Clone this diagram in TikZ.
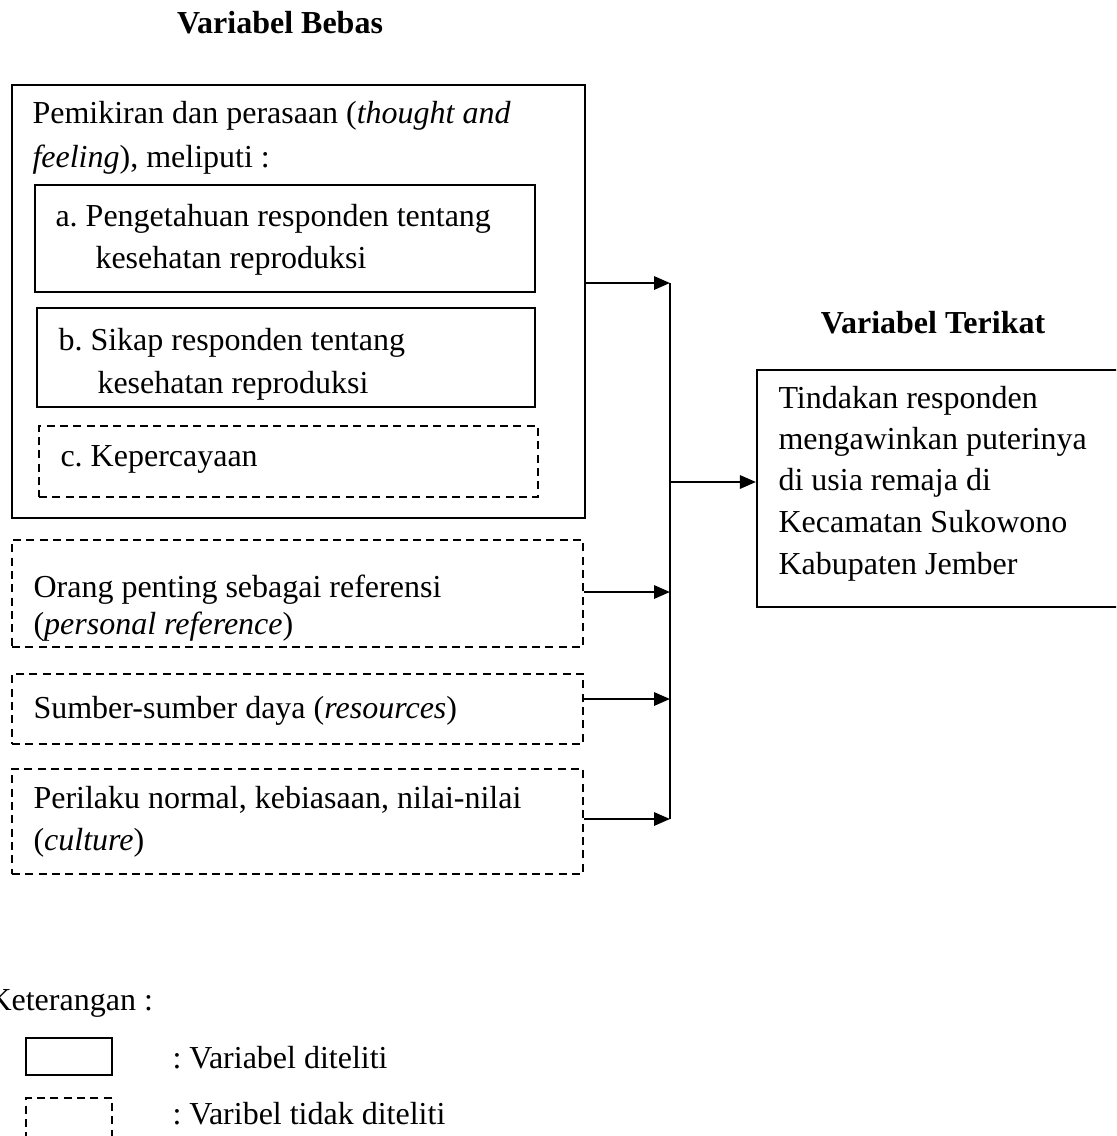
\documentclass[tikz,border=0pt]{standalone}
\usepackage{fontspec}
\setmainfont{Liberation Serif}
\usetikzlibrary{arrows.meta,fit}
\begin{document}
\frenchspacing
\begin{tikzpicture}[x=0.375pt,y=-0.375pt,font=\fontsize{12}{14}\selectfont,
	>={Triangle[length=6pt,width=5pt]},
	box/.style={draw,line width=0.8pt,inner sep=0pt},
	dbox/.style={box,dash pattern=on 3pt off 2pt},
	txt/.style={anchor=base west,inner sep=0pt},
	judul/.style={anchor=base,inner sep=0pt,font=\fontsize{12}{14}\selectfont\bfseries},
	link/.style={->,line width=0.8pt}]
	\useasboundingbox (0,0) rectangle (1116,1136);
	\clip (0,0) rectangle (1116,1136);
	% judul
	\node[judul] (bebas) at (280,33) {Variabel Bebas};
	\node[judul] (terikat) at (933,333) {Variabel Terikat};
	% kotak variabel
	\node[box,fit={(12,85) (585,518)}] (pikir) {};
	\node[box,fit={(35,185) (535,292)}] (tahu) {};
	\node[box,fit={(37,308) (535,407)}] (sikap) {};
	\node[dbox,fit={(39,426) (538,497)}] (percaya) {};
	\node[dbox,fit={(12,540) (583,647)}] (referensi) {};
	\node[dbox,fit={(12,674) (583,744)}] (sumber) {};
	\node[dbox,fit={(12,769) (583,874)}] (kultur) {};
	\node[box,fit={(757,370) (1130,607)}] (tindakan) {};
	% isi teks
	\foreach \x/\y/\t in {32/123/{Pemikiran dan perasaan (\textit{thought and}},32/167/{\textit{feeling}), meliputi :},
		55/226/{a. Pengetahuan responden tentang},95/268/{kesehatan reproduksi},
		58/350/{b. Sikap responden tentang},97/393/{kesehatan reproduksi},
		60/466/{c. Kepercayaan},
		33/597/{Orang penting sebagai referensi},33/634/{(\textit{personal reference})},
		33/718/{Sumber-sumber daya (\textit{resources})},
		33/808/{Perilaku normal, kebiasaan, nilai-nilai},33/850/{(\textit{culture})},
		778/408/{Tindakan responden},778/449/{mengawinkan puterinya},778/490/{di usia remaja di},
		778/532/{Kecamatan Sukowono},778/574/{Kabupaten Jember}}
	\node[txt] (t\y) at (\x,\y) {\t};
	% panah
	\coordinate (bus1) at (670,283);
	\coordinate (bus2) at (670,592);
	\coordinate (bus3) at (670,699);
	\coordinate (bus4) at (670,819);
	\coordinate (bus0) at (670,482);
	\draw[line width=0.8pt] (bus1) -- (bus4);
	\draw[link] (pikir.east |- bus1) -- (bus1);
	\draw[link] (referensi.east |- bus2) -- (bus2);
	\draw[link] (sumber.east |- bus3) -- (bus3);
	\draw[link] (kultur.east |- bus4) -- (bus4);
	\draw[link] (bus0) -- (tindakan.west |- bus0);
	% keterangan
	\node[txt] (ket) at (-12,1010) {Keterangan :};
	\node[box,fit={(26,1038) (112,1075)}] (kotak1) {};
	\node[dbox,fit={(26,1098) (112,1145)}] (kotak2) {};
	\node[txt] (ket1) at (172,1068) {: Variabel diteliti};
	\node[txt] (ket2) at (172,1124) {: Varibel tidak diteliti};
\end{tikzpicture}
\end{document}
